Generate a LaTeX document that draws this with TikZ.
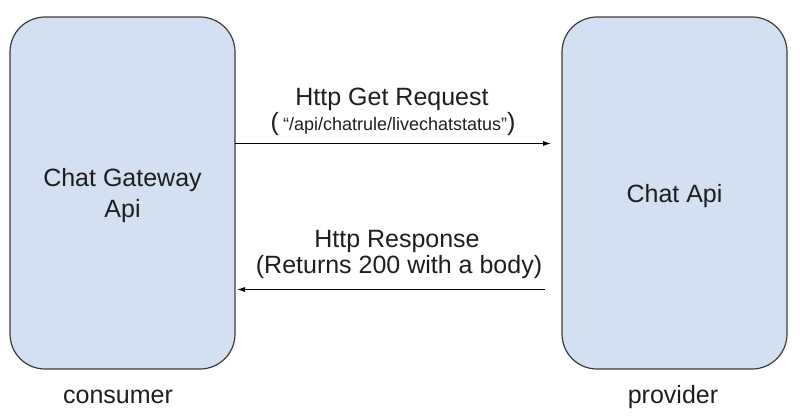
\documentclass[tikz,border=0pt]{standalone}
\usepackage{fontspec}
\setmainfont{Liberation Sans}
\usetikzlibrary{arrows.meta}
\definecolor{boxfill}{RGB}{210,224,241}
\definecolor{boxline}{RGB}{60,60,60}
\definecolor{txt}{RGB}{30,30,30}
\begin{document}
\begin{tikzpicture}[x=1pt,y=-1pt,
  box/.style={draw=boxline, line width=1.2pt, fill=boxfill, rounded corners=35pt,
    minimum width=225pt, minimum height=352pt, inner sep=0pt, align=center,
    text=txt, text depth=0pt, font=\fontsize{25}{31}\selectfont},
  lbl/.style={anchor=base, text=txt, inner sep=0pt, font=\fontsize{25}{30}\selectfont},
  arr/.style={draw=black, line width=1pt, -{Latex[length=8pt,width=5pt]}}]
\useasboundingbox (0,0) rectangle (800,416);
\node[box] (lb) at (122.5,193) {Chat Gateway\\Api};
\node[box] (rb) at (674.5,193) {Chat Api};
\node[lbl] (t1) at (392,105) {Http Get Request};
\node[lbl] (t2) at (393,130) {(\,{\fontsize{18}{20}\selectfont “/api/chatrule/livechatstatus”})};
\node[lbl] (t3) at (397,247) {Http Response};
\node[lbl] (t4) at (399,273) {(Returns 200 with a body)};
\node[lbl] (c1) at (118,403) {consumer};
\node[lbl] (c2) at (673,403) {provider};
\coordinate (reqS) at (235,143.5);
\coordinate (reqE) at (551,143.5);
\coordinate (resS) at (545,289.5);
\coordinate (resE) at (237,289.5);
\draw[arr] (reqS) -- (reqE);
\draw[arr] (resS) -- (resE);
\end{tikzpicture}
\end{document}
